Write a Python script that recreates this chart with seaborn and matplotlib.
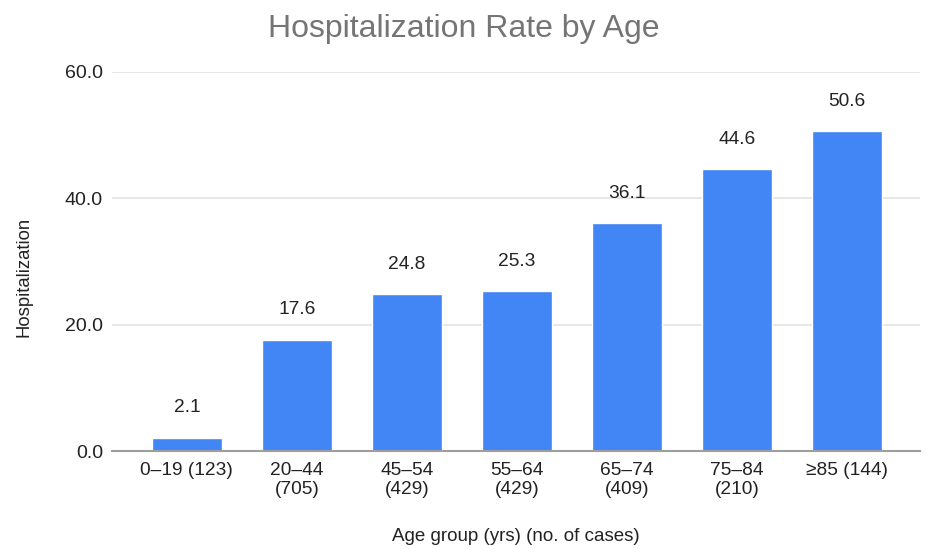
import matplotlib
matplotlib.use("Agg")
import matplotlib.pyplot as plt
import seaborn as sns
import pandas as pd

categories = ["0–19 (123)", "20–44\n(705)", "45–54\n(429)", "55–64\n(429)",
              "65–74\n(409)", "75–84\n(210)", "≥85 (144)"]
values = [2.1, 17.6, 24.8, 25.3, 36.1, 44.6, 50.6]
yticks = [0, 20, 40, 60]
title = "Hospitalization Rate by Age"
xlabel = "Age group (yrs) (no. of cases)"
ylabel = "Hospitalization"

sns.set_style("white")
plt.rcParams['font.family'] = ['Liberation Sans', 'DejaVu Sans']

df = pd.DataFrame({"cat": categories, "val": values})

fig = plt.figure(figsize=(9.28, 5.49), dpi=100)
ax = fig.add_axes([0.1207, 0.1785, 0.8703, 0.6904])

sns.barplot(data=df, x="cat", y="val", color="#4285F4", saturation=1,
            width=0.64, ax=ax, zorder=3)

ax.set_xlim(-0.68, 6.66)
ax.set_ylim(0, 60)
ax.set_yticks(yticks)
ax.set_yticklabels([f"{v:.1f}" for v in yticks], fontsize=14, color="#222222")
ax.tick_params(axis="x", labelsize=13.8, colors="#222222", length=0, pad=8)
ax.tick_params(axis="y", length=0, pad=6.5)
ax.set_xticks(range(len(categories)))
ax.set_xticklabels(categories, linespacing=1.12)

ax.yaxis.grid(True, color="#e3e3e3", linewidth=1.2, zorder=0)
ax.set_axisbelow(True)
for s in ["top", "right", "left"]:
    ax.spines[s].set_visible(False)
ax.spines["bottom"].set_color("#9e9e9e")
ax.spines["bottom"].set_linewidth(1.5)
ax.spines["bottom"].set_zorder(4)

for i, v in enumerate(values):
    ax.annotate(f"{v:.1f}", (i, v), xytext=(0, 21.5), textcoords="offset points",
                ha="center", va="center", fontsize=13.8, color="#222222")

ax.set_xlabel(xlabel, fontsize=13.5, color="#222222")
ax.set_ylabel(ylabel, fontsize=13.3, color="#222222")
ax.xaxis.set_label_coords(0.5, -0.203)
ax.yaxis.set_label_coords(-0.098, 0.458)
fig.text(0.5, 0.947, title, ha="center", va="center", fontsize=23, color="#757575")

fig.savefig("out.png", dpi=100)
